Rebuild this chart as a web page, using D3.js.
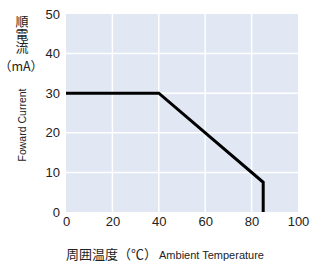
<!DOCTYPE html>
<html><head><meta charset="utf-8">
<script src="https://cdn.jsdelivr.net/npm/d3@7"></script>
<style>body{margin:0;background:#fff}svg{display:block}</style>
</head><body>
<svg id="c" width="311" height="263"></svg>
<script>
const temps = [0, 40, 85, 85];
const currents = [30, 30, 7.5, 0];
const xTicks = [0, 20, 40, 60, 80, 100];
const yTicks = [0, 10, 20, 30, 40, 50];
const yTitleJa = "順電流";
const yUnit = "（mA）";
const yTitleEn = "Foward Current";
const xTitleJa = "周囲温度（℃）";
const xTitleEn = "Ambient Temperature";

const svg = d3.select("#c");
const m = {l: 66, r: 298, t: 14, b: 212};
const x = d3.scaleLinear().domain([0, 100]).range([m.l, m.r]);
const y = d3.scaleLinear().domain([0, 50]).range([m.b, m.t]);
const font = "'Liberation Sans', Arial, sans-serif";
const cjk = "'Noto Sans CJK JP', sans-serif";

svg.append("rect").attr("x", m.l).attr("y", m.t).attr("width", m.r - m.l).attr("height", m.b - m.t).attr("fill", "#e1e8f3");
svg.append("g").selectAll("line").data(xTicks.slice(1, -1)).join("line")
  .attr("x1", d => x(d)).attr("x2", d => x(d)).attr("y1", m.t).attr("y2", m.b)
  .attr("stroke", "#fff").attr("stroke-width", 1.5);
svg.append("g").selectAll("line").data(yTicks.slice(1, -1)).join("line")
  .attr("y1", d => y(d)).attr("y2", d => y(d)).attr("x1", m.l).attr("x2", m.r)
  .attr("stroke", "#fff").attr("stroke-width", 1.5);

const xAxis = svg.append("g").attr("transform", `translate(0,${m.b})`)
  .call(d3.axisBottom(x).tickValues(xTicks).tickSize(0).tickPadding(5));
xAxis.select(".domain").remove();
xAxis.selectAll("text").attr("font-family", font).attr("font-size", 13).attr("fill", "#222");
const yAxis = svg.append("g").attr("transform", `translate(${m.l},0)`)
  .call(d3.axisLeft(y).tickValues(yTicks).tickSize(0).tickPadding(6));
yAxis.select(".domain").remove();
yAxis.selectAll("text").attr("font-family", font).attr("font-size", 13).attr("fill", "#222");

const line = d3.line().x((d, i) => x(temps[i])).y(d => y(d));
svg.append("path").attr("d", line(currents)).attr("fill", "none")
  .attr("stroke", "#000").attr("stroke-width", 3).attr("stroke-linejoin", "miter");

svg.append("text").attr("x", 22).attr("y", 15)
  .attr("font-family", cjk).attr("font-size", 13).attr("fill", "#222")
  .style("writing-mode", "vertical-rl").style("text-orientation", "upright")
  .text(yTitleJa);
svg.append("text").attr("x", 21).attr("y", 71).attr("text-anchor", "middle")
  .attr("font-family", cjk).attr("font-size", 12.5).attr("fill", "#222").text(yUnit);

svg.append("text").attr("transform", "translate(26,125) rotate(-90)")
  .attr("text-anchor", "middle").attr("font-family", font).attr("font-size", 10.5)
  .attr("fill", "#222").text(yTitleEn);

const xt = svg.append("text").attr("x", 66).attr("y", 259).attr("fill", "#222");
xt.append("tspan").attr("font-family", cjk).attr("font-size", 13).text(xTitleJa);
xt.append("tspan").attr("font-family", font).attr("font-size", 11).attr("dx", 2).text(xTitleEn);
</script>
</body></html>
